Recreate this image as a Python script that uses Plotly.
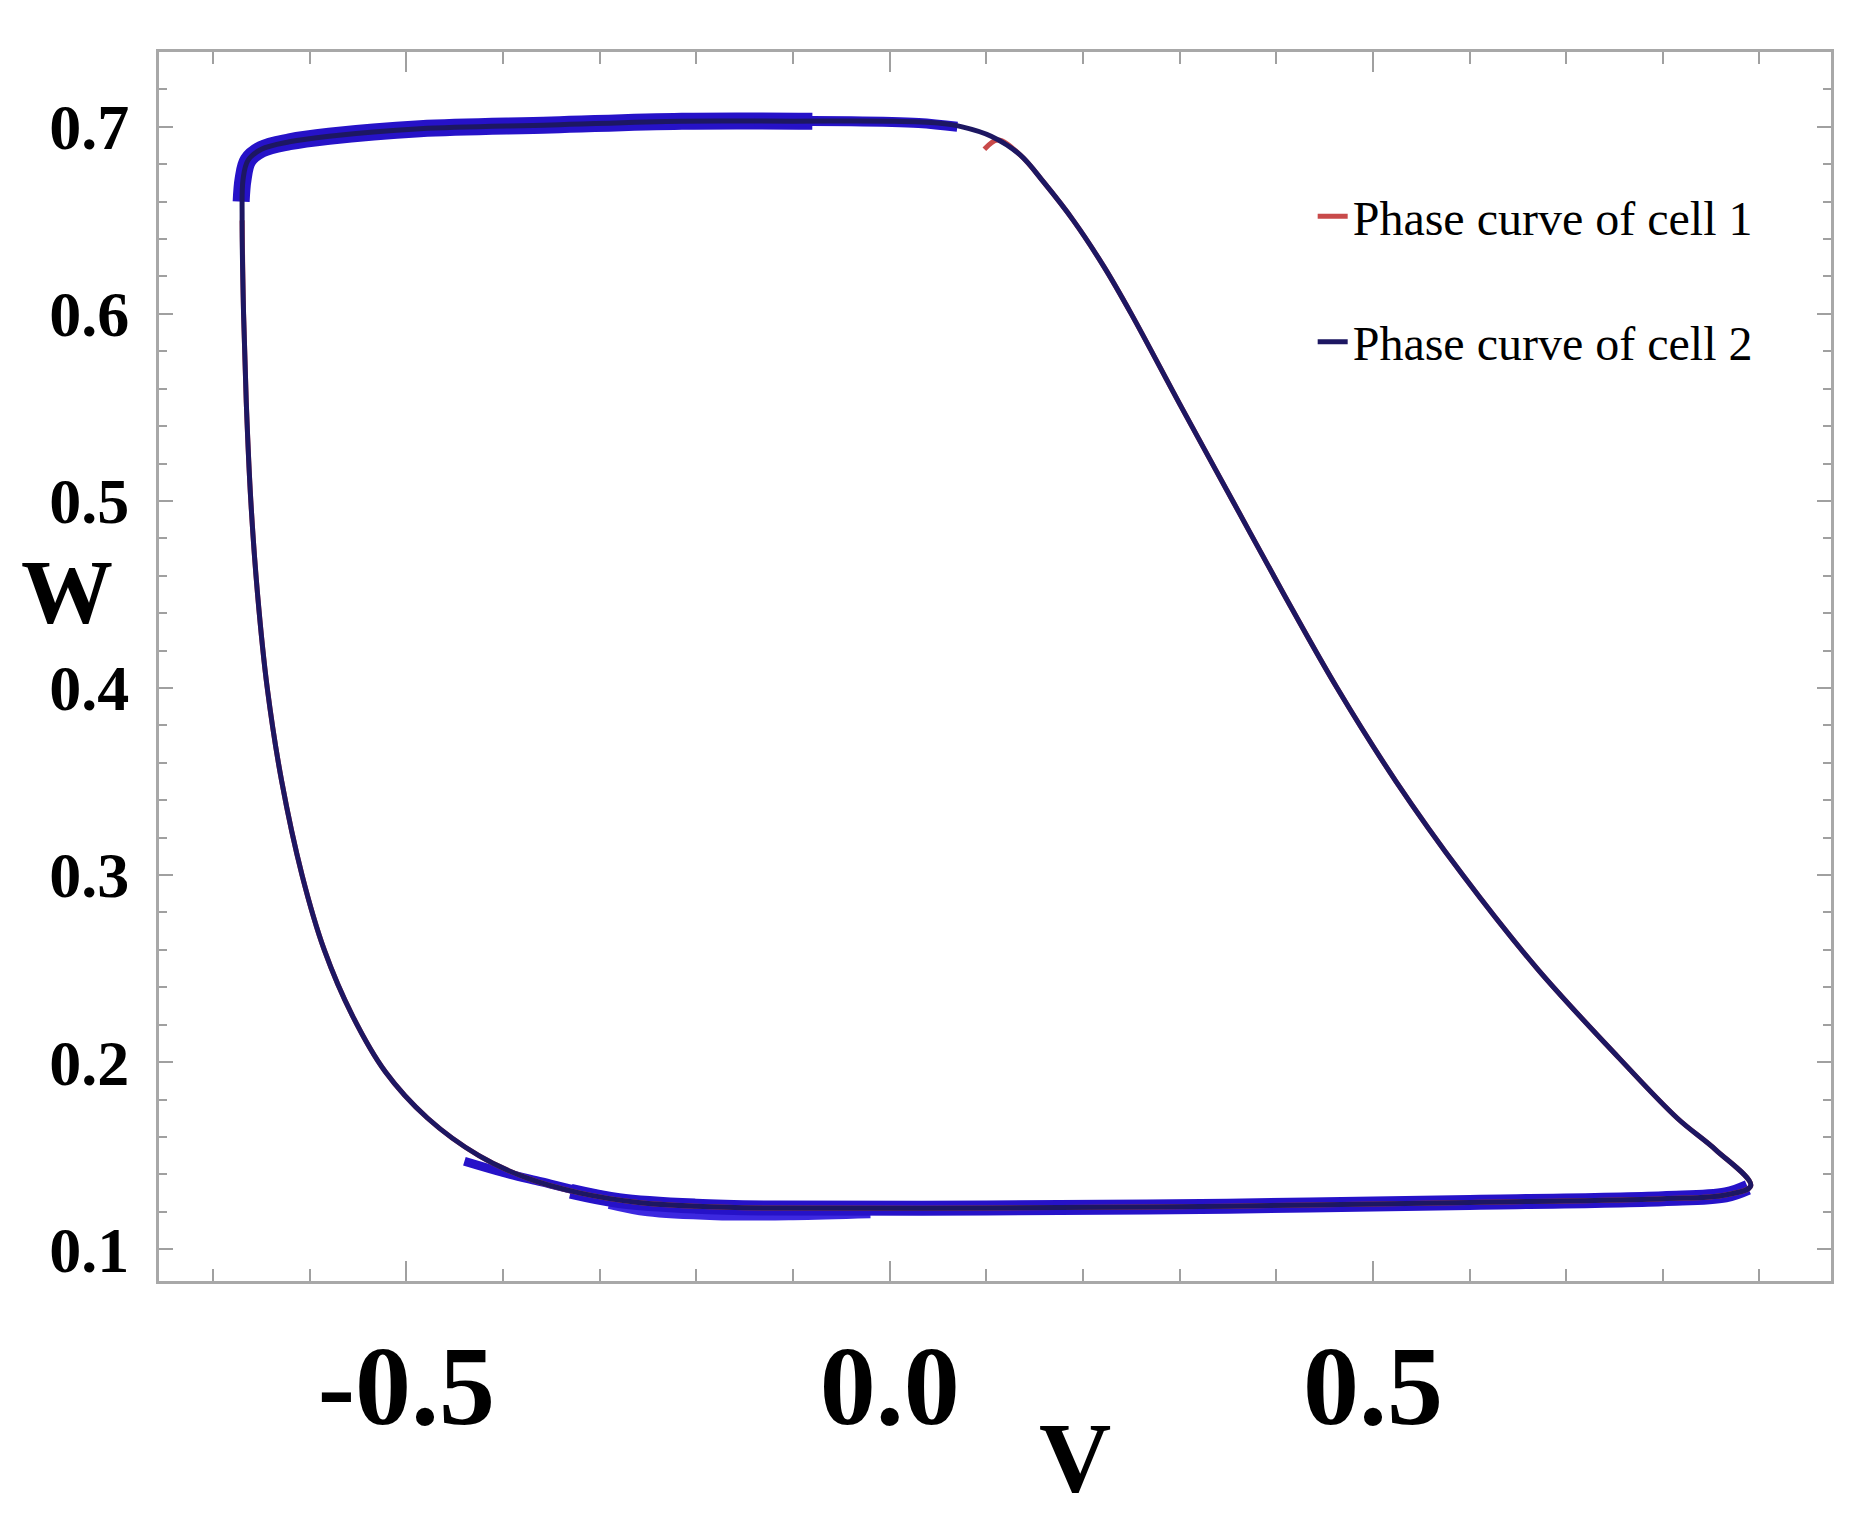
import plotly.graph_objects as go

# phase curve (V, W), going round the limit cycle:
# left branch down, bottom branch right, right branch up, top branch back left
v_cell2 = [-0.670, -0.6685, -0.6655, -0.661, -0.654, -0.644, -0.629, -0.608, -0.585, -0.556,
           -0.522, -0.478, -0.425, -0.375, -0.320, -0.260, -0.200, -0.120, 0.100, 0.350,
           0.600, 0.800, 0.865, 0.891, 0.855, 0.815, 0.755, 0.670, 0.593, 0.524,
           0.463, 0.408, 0.355, 0.302, 0.250, 0.222, 0.190, 0.160, 0.135, 0.105,
           0.075, 0.050, 0.000, -0.100, -0.215, -0.350, -0.486, -0.580, -0.621, -0.650,
           -0.664, -0.669, -0.670]
w_cell2 = [0.650, 0.600, 0.550, 0.500, 0.450, 0.400, 0.350, 0.300, 0.260, 0.225,
           0.195, 0.170, 0.150, 0.138, 0.130, 0.125, 0.123, 0.122, 0.122, 0.123,
           0.125, 0.127, 0.129, 0.134, 0.153, 0.170, 0.202, 0.250, 0.300, 0.350,
           0.400, 0.450, 0.500, 0.550, 0.600, 0.625, 0.650, 0.670, 0.685, 0.695,
           0.700, 0.702, 0.703, 0.703, 0.703, 0.701, 0.699, 0.695, 0.692, 0.688,
           0.682, 0.672, 0.650]

# cell 1 sits under cell 2, only a small red hook shows near the top right corner
v_cell1 = [-0.670, -0.6685, -0.6655, -0.661, -0.654, -0.644, -0.629, -0.608, -0.585, -0.556,
           -0.522, -0.478, -0.425, -0.375, -0.320, -0.260, -0.200, -0.120, 0.100, 0.350,
           0.600, 0.800, 0.865, 0.891, 0.855, 0.815, 0.755, 0.670, 0.593, 0.524,
           0.463, 0.408, 0.355, 0.302, 0.250, 0.222, 0.190, 0.160, 0.135, 0.112,
           0.098]
w_cell1 = [0.650, 0.600, 0.550, 0.500, 0.450, 0.400, 0.350, 0.300, 0.260, 0.225,
           0.195, 0.170, 0.150, 0.138, 0.130, 0.125, 0.123, 0.122, 0.122, 0.123,
           0.125, 0.127, 0.129, 0.134, 0.153, 0.170, 0.202, 0.250, 0.300, 0.350,
           0.400, 0.450, 0.500, 0.550, 0.600, 0.625, 0.650, 0.670, 0.685, 0.693,
           0.688]

# thick transient bands along the slow branches (wide core + thinner tapered ends)
v_band_top = [-0.671, -0.669, -0.664, -0.650, -0.621, -0.580, -0.486, -0.350, -0.215, -0.080]
w_band_top = [0.660, 0.672, 0.682, 0.688, 0.692, 0.695, 0.699, 0.701, 0.703, 0.703]
v_band_top_end = [-0.140, -0.040, 0.030, 0.070]
w_band_top_end = [0.703, 0.703, 0.702, 0.700]
v_band_bot = [-0.330, -0.280, -0.200, -0.120, 0.100, 0.350, 0.600, 0.800, 0.865, 0.888]
w_band_bot = [0.131, 0.126, 0.123, 0.122, 0.122, 0.123, 0.125, 0.127, 0.129, 0.133]
v_band_bot_end = [-0.440, -0.400, -0.360, -0.320, -0.290]
w_band_bot_end = [0.147, 0.141, 0.136, 0.131, 0.128]
v_band_low = [-0.290, -0.250, -0.180, -0.100, -0.020]
w_band_low = [0.125, 0.121, 0.119, 0.119, 0.120]

x_ticks = [-0.5, 0.0, 0.5]
x_labels = ["-0.5", "0.0", "0.5"]
y_ticks = [0.1, 0.2, 0.3, 0.4, 0.5, 0.6, 0.7]
y_labels = ["0.1", "0.2", "0.3", "0.4", "0.5", "0.6", "0.7"]

band_blue = "#2612c8"
fig = go.Figure()
for vx, wy, lw, col in [(v_band_top, w_band_top, 17, band_blue),
                        (v_band_top_end, w_band_top_end, 10, band_blue),
                        (v_band_bot_end, w_band_bot_end, 9, band_blue),
                        (v_band_low, w_band_low, 13, "#3c28e0"),
                        (v_band_bot, w_band_bot, 15, band_blue)]:
    fig.add_trace(go.Scatter(x=vx, y=wy, mode="lines", showlegend=False, hoverinfo="skip",
                             line=dict(color=col, width=lw, shape="spline", smoothing=1.0)))

fig.add_trace(go.Scatter(x=v_cell1, y=w_cell1, mode="lines", name="Phase curve of cell 1", legendgroup="c1",
                         line=dict(color="#c84a4a", width=5, shape="spline", smoothing=1.0)))
fig.add_trace(go.Scatter(x=v_cell2, y=w_cell2, mode="lines", name="Phase curve of cell 2", legendgroup="c2",
                         line=dict(color="#1d1762", width=5, shape="spline", smoothing=1.0)))

axis_common = dict(showline=True, linecolor="#a8a8a8", linewidth=3, mirror="ticks", ticks="inside",
                   tickcolor="#a0a0a0", tickwidth=2, showgrid=False, zeroline=False)

fig.update_xaxes(range=[-0.756, 0.974], tickmode="array", tickvals=x_ticks, ticktext=x_labels, ticklen=20,
                 tickfont=dict(family="Liberation Serif", size=112, color="black", weight="bold"),
                 ticklabelstandoff=6,
                 minor=dict(tickmode="linear", tick0=0, dtick=0.1, ticks="inside", ticklen=12,
                            tickcolor="#a0a0a0", tickwidth=2),
                 **axis_common)
fig.update_yaxes(range=[0.083, 0.740], tickmode="array", tickvals=y_ticks, ticktext=y_labels, ticklen=14,
                 tickfont=dict(family="Liberation Serif", size=64, color="black", weight="bold"),
                 ticklabelstandoff=14,
                 minor=dict(tickmode="linear", tick0=0, dtick=0.02, ticks="inside", ticklen=8,
                            tickcolor="#a0a0a0", tickwidth=2),
                 **axis_common)

fig.add_annotation(text="<b>W</b>", xref="paper", yref="paper", x=-0.084, y=0.561, showarrow=False,
                   font=dict(family="Liberation Serif", size=92, color="black"))
fig.add_annotation(text="<b>V</b>", xref="paper", yref="paper", x=0.548, y=-0.19, showarrow=False,
                   font=dict(family="Liberation Serif", size=100, color="black"))

fig.update_layout(
    width=1860, height=1538,
    paper_bgcolor="white", plot_bgcolor="white",
    margin=dict(l=151, r=37, t=44, b=265),
    showlegend=True,
    legend=dict(x=0.69, y=0.897, xanchor="left", yanchor="top", bgcolor="rgba(0,0,0,0)",
                font=dict(family="Liberation Serif", size=48, color="black"),
                traceorder="grouped", tracegroupgap=60, itemwidth=30),
)

fig.write_html("out.html")
